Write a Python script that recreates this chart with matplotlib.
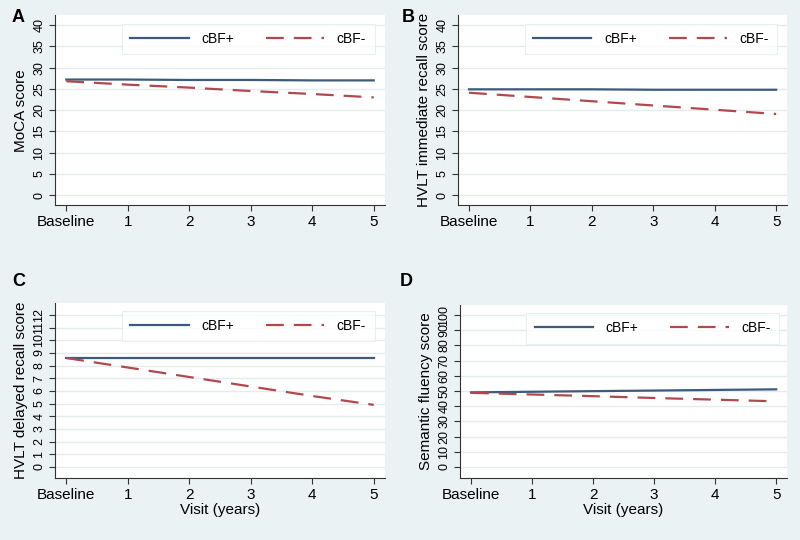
import matplotlib.pyplot as plt

plt.rcParams['font.family'] = ['Liberation Sans', 'DejaVu Sans']

visits = [0, 1, 2, 3, 4, 5]
visit_labels = ['Baseline', '1', '2', '3', '4', '5']

# A - MoCA
moca_pos = [27.2, 27.2, 27.1, 27.1, 27.0, 27.0]
moca_neg = [26.8, 26.0, 25.3, 24.5, 23.8, 23.0]
# B - HVLT immediate recall
hvlt_imm_pos = [24.9, 24.9, 24.9, 24.8, 24.8, 24.8]
hvlt_imm_neg = [24.1, 23.1, 22.1, 21.1, 20.1, 19.1]
# C - HVLT delayed recall
hvlt_del_pos = [8.6, 8.6, 8.6, 8.6, 8.6, 8.6]
hvlt_del_neg = [8.6, 7.85, 7.1, 6.35, 5.6, 4.9]
# D - semantic fluency
sem_pos = [49.1, 49.5, 49.9, 50.3, 50.7, 51.1]
sem_neg = [48.8, 47.7, 46.6, 45.4, 44.3, 43.2]

bg = '#eaf2f3'
blue = '#3d5a7c'
red = '#b0484f'

fig = plt.figure(figsize=(8, 5.4), dpi=100, facecolor=bg)

panels = [
    ('A', [0.069, 0.620, 0.412, 0.352], moca_pos, moca_neg, 'MoCA score',
     list(range(0, 41, 5)), (-2.35, 42.35), False),
    ('B', [0.5725, 0.620, 0.4115, 0.352], hvlt_imm_pos, hvlt_imm_neg,
     'HVLT immediate recall score', list(range(0, 41, 5)), (-2.35, 42.35), False),
    ('C', [0.069, 0.115, 0.412, 0.324], hvlt_del_pos, hvlt_del_neg,
     'HVLT delayed recall score', list(range(0, 13)), (-0.87, 12.95), True),
    ('D', [0.575, 0.115, 0.409, 0.320], sem_pos, sem_neg,
     'Semantic fluency score', list(range(0, 101, 10)), (-7.25, 106.6), True),
]
letter_pos = {'A': (12, 17), 'B': (402, 17), 'C': (12, 281), 'D': (400, 281)}

for letter, rect, pos, neg, ylab, yticks, ylim, xlab in panels:
    ax = fig.add_axes(rect)
    ax.set_facecolor('white')
    ax.plot(visits, pos, color=blue, lw=1.6, label='cBF+')
    ax.plot(visits, neg, color=red, lw=1.6, ls=(0, (8, 4.5)), label='cBF-')
    ax.set_xlim(-0.18, 5.18)
    ax.set_ylim(*ylim)
    ax.set_xticks(visits)
    ax.set_xticklabels(visit_labels, fontsize=11)
    ax.set_yticks(yticks)
    ax.set_yticklabels([str(t) for t in yticks], fontsize=9, rotation=90, va='center')
    ax.yaxis.grid(True, color='#e4ecee', lw=1.0)
    ax.set_axisbelow(True)
    for s in ['top', 'right']:
        ax.spines[s].set_visible(False)
    for s in ['left', 'bottom']:
        ax.spines[s].set_color('#333333')
        ax.spines[s].set_linewidth(0.8)
    ax.tick_params(direction='out', length=4, width=0.8, color='#333333', pad=3)
    ax.set_ylabel(ylab, fontsize=11, labelpad=4)
    if xlab:
        ax.set_xlabel('Visit (years)', fontsize=11, labelpad=1)
    leg = ax.legend(loc='upper left', bbox_to_anchor=(0.203, 0.955),
                    ncol=2, frameon=True, fancybox=False,
                    fontsize=10, handlelength=4.2, borderpad=0.6,
                    handletextpad=0.9, columnspacing=2.3, borderaxespad=0)
    leg.get_frame().set_edgecolor('#e4ecee')
    leg.get_frame().set_linewidth(0.8)
    x, y = letter_pos[letter]
    fig.text(x / 800, 1 - y / 540, letter, fontsize=13, fontweight='bold',
             ha='left', va='center')

fig.savefig('out.png', dpi=100, facecolor=bg)
